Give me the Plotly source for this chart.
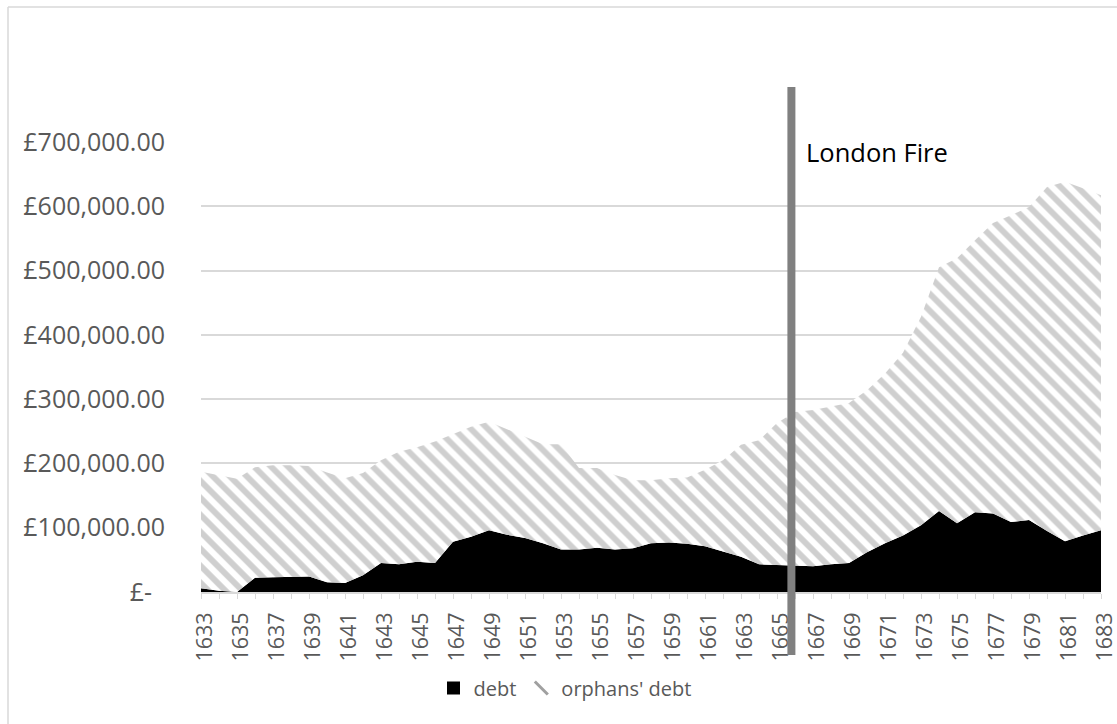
import plotly.graph_objects as go

years = list(range(1633, 1684))

# debt (black area), £
debt = [6000, 2000, 0, 22000, 23000, 23000, 24000, 15000, 14000, 26000,
        45000, 43000, 47000, 45000, 78000, 86000, 96000, 89000, 84000, 76000,
        66000, 66000, 69000, 66000, 68000, 76000, 77000, 75000, 71000, 63000,
        55000, 43000, 42000, 40000, 40000, 43000, 45000, 62000, 76000, 88000,
        104000, 126000, 107000, 124000, 122000, 109000, 112000, 95000, 79000, 88000,
        96000]

# orphans' debt (hatched area, stacked on debt), £
orphans_debt = [181000, 180000, 176000, 172000, 174000, 174000, 172000, 171000, 163000, 159000,
                160000, 175000, 178000, 189000, 167000, 171000, 169000, 164000, 157000, 154000,
                164000, 127000, 124000, 116000, 106000, 98000, 100000, 103000, 119000, 142000,
                174000, 193000, 221000, 240000, 243000, 246000, 249000, 252000, 264000, 284000,
                324000, 379000, 412000, 423000, 452000, 477000, 487000, 535000, 559000, 540000,
                521000]

y_tickvals = [0, 100000, 200000, 300000, 400000, 500000, 600000, 700000]
y_ticktext = ["£-\u00a0\u00a0", "£100,000.00", "£200,000.00", "£300,000.00",
              "£400,000.00", "£500,000.00", "£600,000.00", "£700,000.00"]

fire_year = 1665.8
fire_label = "London Fire"

FONT = "Open Sans"
GREY_TXT = "#595959"
GRID = "#d9d9d9"
HATCH = "#a0a0a0"

fig = go.Figure()
fig.add_trace(go.Scatter(
    x=years, y=debt, name="debt", mode="lines", stackgroup="one",
    line=dict(width=0, color="black"), fillcolor="black", showlegend=False,
))
fig.add_trace(go.Scatter(
    x=years, y=orphans_debt, name="orphans' debt", mode="lines", stackgroup="one",
    line=dict(width=0, color=HATCH), fillcolor="white", showlegend=False,
    fillpattern=dict(shape="\\", fgcolor=HATCH, bgcolor="white", size=12, solidity=0.5),
))
# legend entries (Excel-style icons)
fig.add_trace(go.Scatter(
    x=[None], y=[None], name="debt", mode="markers",
    marker=dict(symbol="square", size=13, color="black"),
))
fig.add_trace(go.Scatter(
    x=[None], y=[None], name="orphans' debt", mode="markers",
    marker=dict(symbol="line-nw", size=13, color=HATCH, line=dict(color=HATCH, width=3)),
))

W, H = 1117, 724
L, R, T, B = 201, 16, 142, 132
pw, ph = W - L - R, H - T - B

def px(xp):
    return (xp - L) / pw

def py(yp):
    return (H - B - yp) / ph

fig.update_layout(
    width=W, height=H,
    margin=dict(l=L, r=R, t=T, b=B, autoexpand=False),
    paper_bgcolor="white", plot_bgcolor="white",
    font=dict(family=FONT, color=GREY_TXT),
    showlegend=True,
    legend=dict(orientation="h", x=px(565), y=py(688), xanchor="center", yanchor="middle",
                font=dict(size=20, color=GREY_TXT, family=FONT), traceorder="normal",
                itemwidth=30),
    xaxis=dict(range=[1633, 1683], tickmode="linear", tick0=1633, dtick=2,
               tickangle=-90, showgrid=False, showline=True, linecolor=GRID, linewidth=1.5,
               ticks="outside", ticklen=5, tickcolor=GRID,
               minor=dict(ticks="outside", dtick=1, tick0=1633, ticklen=5, tickcolor=GRID),
               tickfont=dict(size=21.5, color=GREY_TXT, family=FONT), zeroline=False,
               ticklabelstandoff=5, ticklabelshift=4, ticklabeloverflow="allow",
               automargin=False),
    yaxis=dict(range=[0, 700000], tickvals=y_tickvals, ticktext=y_ticktext,
               showgrid=True, gridcolor=GRID, gridwidth=1.5, zeroline=False, showline=False,
               tickfont=dict(size=25, color=GREY_TXT, family=FONT), ticks="",
               ticklabelstandoff=35, automargin=False),
)

# London Fire marker line
fig.add_shape(type="line", xref="x", yref="paper", x0=fire_year, x1=fire_year,
              y0=py(655), y1=py(87), line=dict(color="#808080", width=8), layer="above")
fig.add_annotation(x=fire_year + 0.68, xref="x", y=py(152), yref="paper", text=fire_label,
                   showarrow=False, xanchor="left", yanchor="middle",
                   font=dict(size=25.5, color="black", family=FONT))

# chart-area border (left and top edges visible)
fig.add_shape(type="line", xref="paper", yref="paper", x0=px(8), x1=px(8), y0=py(724), y1=py(7),
              line=dict(color=GRID, width=1.5))
fig.add_shape(type="line", xref="paper", yref="paper", x0=px(8), x1=px(1117), y0=py(7), y1=py(7),
              line=dict(color=GRID, width=1.5))

fig.write_html("out.html")
